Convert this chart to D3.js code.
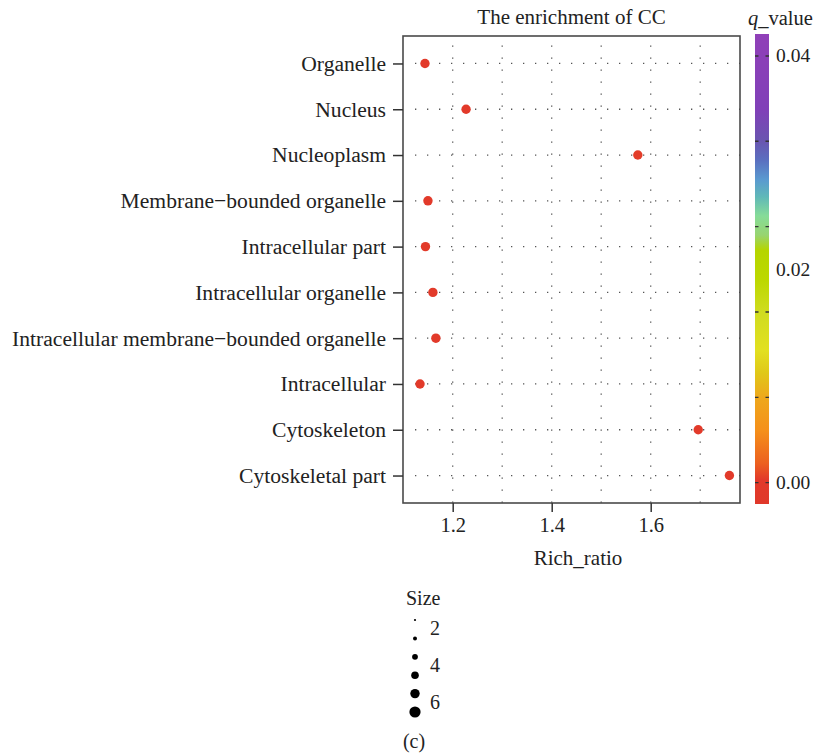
<!DOCTYPE html>
<html>
<head>
<meta charset="utf-8">
<script src="https://cdn.jsdelivr.net/npm/d3@7"></script>
<style>
  html, body { margin: 0; padding: 0; background: #fff; }
  svg { display: block; font-family: "Liberation Serif", "Times New Roman", serif; }
</style>
</head>
<body>
<svg id="chart" width="816" height="754"></svg>
<script>
// ---- data ----
const categories = [
  "Organelle",
  "Nucleus",
  "Nucleoplasm",
  "Membrane\u2212bounded organelle",
  "Intracellular part",
  "Intracellular organelle",
  "Intracellular membrane\u2212bounded organelle",
  "Intracellular",
  "Cytoskeleton",
  "Cytoskeletal part"
];
const richRatio = [1.144, 1.227, 1.574, 1.150, 1.145, 1.160, 1.166, 1.134, 1.696, 1.759];
const qValue    = [0.0003, 0.0002, 0.0004, 0.0003, 0.0003, 0.0003, 0.0003, 0.0003, 0.0002, 0.0002];
const geneSize  = [5.5, 5.5, 5.5, 5.5, 5.5, 5.5, 5.5, 5.5, 5.5, 5.5];

const xTicks = [1.2, 1.4, 1.6];
const xGrid = [1.2, 1.3, 1.4, 1.5, 1.6, 1.7];
const qTicks = [0.00, 0.02, 0.04];
const qDashes = [0, 0.008, 0.016, 0.024, 0.032, 0.04];
const sizeKeys = [1.5, 2.5, 3.5, 4.5, 5.5, 6.5];
const sizeLabels = [2, 4, 6];

const qStopValues = [-0.0019, 0.0003, 0.0018, 0.0049, 0.008, 0.0103, 0.0124, 0.0159, 0.019, 0.0218, 0.0232, 0.025, 0.0268, 0.0284, 0.0302, 0.0321, 0.0349, 0.0421];
const qStopColors = ["#e0382a", "#e23a2a", "#ec6020", "#f5901a", "#eea81c", "#e0c818", "#e2e020", "#d0dc20", "#bcd800", "#b5d500", "#98d470", "#86dc98", "#60b8b8", "#5a9ad0", "#5a70c0", "#6a55b0", "#8040b8", "#9040b8"];

// ---- layout ----
const svg = d3.select("#chart");
const P = { left: 403, right: 740, top: 36, bottom: 503 };

const x = d3.scaleLinear().domain([1.0996, 1.7804]).range([P.left, P.right]);
const y = d3.scalePoint().domain(categories).range([P.top, P.bottom]).padding(0.6);
const color = d3.scaleLinear().domain(qStopValues).range(qStopColors).clamp(true);
const rScale = d3.scaleLinear().domain([1.5, 6.5]).range([1.1, 5.6]);

// grid
const grid = svg.append("g").attr("stroke", "#555").attr("stroke-width", 1.3)
  .attr("stroke-dasharray", "1.3,10.7");
grid.selectAll("line.v").data(xGrid).join("line")
  .attr("x1", d => x(d)).attr("x2", d => x(d))
  .attr("y1", P.top + 9.5).attr("y2", P.bottom);
grid.selectAll("line.h").data(categories).join("line")
  .attr("x1", P.left + 12).attr("x2", P.right)
  .attr("y1", d => y(d)).attr("y2", d => y(d));

// panel border
svg.append("rect")
  .attr("x", P.left).attr("y", P.top)
  .attr("width", P.right - P.left).attr("height", P.bottom - P.top)
  .attr("fill", "none").attr("stroke", "#4a4a4a").attr("stroke-width", 1.6);

// y axis
const yAxis = svg.append("g").attr("transform", `translate(${P.left},0)`)
  .call(d3.axisLeft(y).tickSize(10).tickPadding(7));
yAxis.select(".domain").remove();
yAxis.selectAll(".tick line").attr("stroke", "#333").attr("stroke-width", 1.5);
yAxis.selectAll(".tick text").attr("font-size", 21.6).attr("fill", "#222")
  .attr("font-family", "Liberation Serif, serif");

// x axis
const xAxis = svg.append("g").attr("transform", `translate(0,${P.bottom})`)
  .call(d3.axisBottom(x).tickValues(xTicks).tickFormat(d3.format(".1f")).tickSize(9).tickPadding(5));
xAxis.select(".domain").remove();
xAxis.selectAll(".tick line").attr("stroke", "#333").attr("stroke-width", 1.5);
xAxis.selectAll(".tick text").attr("font-size", 20.5).attr("fill", "#222")
  .attr("font-family", "Liberation Serif, serif");

// points
svg.append("g").selectAll("circle").data(categories).join("circle")
  .attr("cx", (d, i) => x(richRatio[i]))
  .attr("cy", d => y(d))
  .attr("r", (d, i) => rScale(geneSize[i]))
  .attr("fill", (d, i) => color(qValue[i]));

// titles
svg.append("text").attr("x", (P.left + P.right) / 2).attr("y", 17)
  .attr("text-anchor", "middle").attr("dominant-baseline", "central")
  .attr("font-size", 21).attr("fill", "#222").text("The enrichment of CC");
svg.append("text").attr("x", 578).attr("y", 558)
  .attr("text-anchor", "middle").attr("dominant-baseline", "central")
  .attr("font-size", 21).attr("fill", "#222").text("Rich_ratio");

// colorbar
const cb = { x: 755, w: 14, top: 34, bottom: 504 };
const cy = d3.scaleLinear().domain([-0.002, 0.04206]).range([cb.bottom, cb.top]);
const defs = svg.append("defs");
const grad = defs.append("linearGradient").attr("id", "qgrad")
  .attr("x1", 0).attr("y1", 1).attr("x2", 0).attr("y2", 0);
const [d0, d1] = cy.domain();
grad.selectAll("stop").data(qStopValues).join("stop")
  .attr("offset", d => Math.max(0, Math.min(1, (d - d0) / (d1 - d0))))
  .attr("stop-color", (d, i) => qStopColors[i]);
svg.append("rect").attr("x", cb.x).attr("y", cb.top)
  .attr("width", cb.w).attr("height", cb.bottom - cb.top)
  .attr("fill", "url(#qgrad)");
svg.append("g").selectAll("line").data(qDashes).join("line")
  .attr("x1", cb.x).attr("x2", cb.x + cb.w)
  .attr("y1", d => cy(d)).attr("y2", d => cy(d))
  .attr("stroke", "#333").attr("stroke-width", 1.4)
  .attr("stroke-dasharray", "3.5,7,3.5");
svg.append("g").selectAll("text").data(qTicks).join("text")
  .attr("x", 776).attr("y", d => cy(d))
  .attr("dominant-baseline", "central")
  .attr("font-size", 19.5).attr("fill", "#222")
  .text(d => d3.format(".2f")(d));
const qt = svg.append("text").attr("x", 748).attr("y", 18)
  .attr("dominant-baseline", "central").attr("font-size", 20.5).attr("fill", "#222");
qt.append("tspan").attr("font-style", "italic").text("q");
qt.append("tspan").text("_value");

// size legend
svg.append("text").attr("x", 406).attr("y", 598)
  .attr("dominant-baseline", "central").attr("font-size", 20).attr("fill", "#222").text("Size");
const sy = d3.scaleLinear().domain([1.5, 6.5]).range([620, 712]);
svg.append("g").selectAll("circle").data(sizeKeys).join("circle")
  .attr("cx", 415).attr("cy", d => sy(d)).attr("r", d => rScale(d)).attr("fill", "#000");
svg.append("g").selectAll("text").data(sizeLabels).join("text")
  .attr("x", 430).attr("y", d => sy(d) - 1)
  .attr("dominant-baseline", "central").attr("font-size", 20).attr("fill", "#222")
  .text(d => d);

// panel label
svg.append("text").attr("x", 414).attr("y", 741)
  .attr("text-anchor", "middle").attr("dominant-baseline", "central")
  .attr("font-size", 20).attr("fill", "#222").text("(c)");
</script>
</body>
</html>
